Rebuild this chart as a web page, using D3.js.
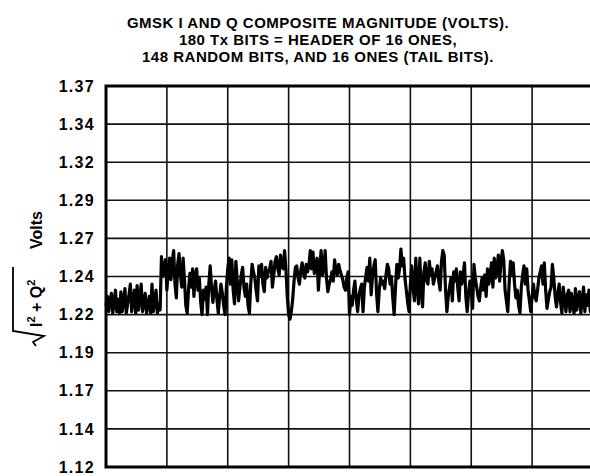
<!DOCTYPE html>
<html>
<head>
<meta charset="utf-8">
<script src="https://cdn.jsdelivr.net/npm/d3@7"></script>
<style>
body { margin: 0; background: #fff; }
svg { display: block; }
text { font-family: "Liberation Sans", Arial, sans-serif; font-weight: bold; fill: #000; }
</style>
</head>
<body>
<script>
"use strict";
const titleLines = ["GMSK I AND Q COMPOSITE MAGNITUDE (VOLTS).", "180 Tx BITS = HEADER OF 16 ONES,", "148 RANDOM BITS, AND 16 ONES (TAIL BITS)."];
const yTicks = [1.12, 1.145, 1.17, 1.195, 1.22, 1.245, 1.27, 1.295, 1.32, 1.345, 1.37];
const yTickLabels = ["1.12", "1.14", "1.17", "1.19", "1.22", "1.24", "1.27", "1.29", "1.32", "1.34", "1.37"];
const xTicks = [0, 22.5, 45, 67.5, 90, 112.5, 135, 157.5, 180];
const bitStep = 0.5; // two samples per bit, 180 bits
const volts = [
1.226,1.232,1.222,1.229,1.234,1.221,1.228,1.236,1.222,1.230,
1.221,1.235,1.222,1.229,1.237,1.221,1.227,1.233,1.240,1.222,
1.230,1.236,1.221,1.239,1.223,1.230,1.240,1.222,1.228,1.234,
1.221,1.226,1.232,1.221,1.240,1.222,1.229,1.236,1.221,1.227,
1.223,1.258,1.245,1.252,1.256,1.236,1.248,1.257,1.243,1.255,
1.262,1.240,1.231,1.253,1.260,1.246,1.238,1.257,1.243,1.226,
1.221,1.236,1.247,1.238,1.250,1.232,1.246,1.250,1.236,1.244,
1.228,1.220,1.236,1.230,1.238,1.220,1.240,1.252,1.238,1.228,
1.236,1.242,1.230,1.221,1.232,1.240,1.234,1.226,1.220,1.238,
1.250,1.257,1.240,1.256,1.236,1.227,1.255,1.242,1.229,1.238,
1.246,1.251,1.238,1.232,1.240,1.226,1.221,1.240,1.253,1.248,
1.244,1.236,1.229,1.252,1.245,1.253,1.240,1.235,1.251,1.244,
1.248,1.250,1.255,1.238,1.246,1.255,1.258,1.250,1.246,1.259,
1.252,1.250,1.262,1.250,1.232,1.220,1.217,1.222,1.230,1.242,
1.251,1.252,1.244,1.240,1.249,1.254,1.247,1.244,1.253,1.248,
1.252,1.262,1.250,1.261,1.247,1.252,1.257,1.236,1.250,1.262,
1.246,1.250,1.262,1.244,1.235,1.240,1.243,1.248,1.242,1.256,
1.248,1.246,1.253,1.249,1.246,1.243,1.238,1.236,1.244,1.248,
1.220,1.232,1.226,1.236,1.242,1.230,1.222,1.232,1.237,1.240,
1.222,1.238,1.245,1.251,1.242,1.257,1.233,1.245,1.252,1.256,
1.234,1.222,1.236,1.244,1.240,1.242,1.237,1.246,1.253,1.250,
1.240,1.245,1.231,1.220,1.238,1.253,1.244,1.250,1.263,1.252,
1.257,1.244,1.236,1.228,1.222,1.240,1.252,1.238,1.229,1.257,
1.240,1.227,1.257,1.236,1.225,1.248,1.254,1.242,1.240,1.255,
1.246,1.250,1.240,1.244,1.248,1.252,1.242,1.236,1.255,1.262,
1.259,1.236,1.222,1.232,1.238,1.244,1.229,1.248,1.242,1.250,
1.238,1.229,1.248,1.240,1.246,1.254,1.232,1.222,1.234,1.242,
1.236,1.224,1.253,1.244,1.238,1.232,1.229,1.238,1.244,1.236,
1.246,1.232,1.250,1.240,1.246,1.254,1.238,1.257,1.244,1.250,
1.259,1.242,1.255,1.262,1.256,1.236,1.229,1.222,1.240,1.255,
1.246,1.254,1.240,1.231,1.236,1.226,1.221,1.238,1.246,1.252,
1.240,1.250,1.236,1.229,1.222,1.232,1.240,1.232,1.229,1.236,
1.244,1.248,1.252,1.240,1.254,1.236,1.224,1.230,1.235,1.238,
1.253,1.244,1.232,1.225,1.234,1.240,1.228,1.221,1.238,1.230,
1.222,1.233,1.236,1.222,1.234,1.226,1.221,1.237,1.223,1.231,
1.235,1.221,1.229,1.238,1.222,1.233,1.226,1.236,1.222,1.230,
1.226
];

const W = 590, H = 476;
const m = { left: 106, right: 593, top: 86, bottom: 467 };
const svg = d3.select("body").append("svg").attr("width", W).attr("height", H);

const x = d3.scaleLinear().domain([0, 180]).range([m.left, m.right]);
const y = d3.scaleLinear().domain([1.12, 1.37]).range([m.bottom, m.top]);

// title
svg.append("g").selectAll("text").data(titleLines).enter().append("text")
	.attr("x", 318).attr("y", (d, i) => 28 + i * 17)
	.attr("text-anchor", "middle").style("font-size", "15px").style("letter-spacing", "0.5px").text(d => d);

// grid
svg.append("g").selectAll("line").data(yTicks).enter().append("line")
	.attr("x1", m.left).attr("x2", m.right).attr("y1", d => y(d)).attr("y2", d => y(d))
	.attr("stroke", "#111").attr("stroke-width", 1.6);
svg.append("g").selectAll("line").data(xTicks).enter().append("line")
	.attr("y1", m.top).attr("y2", m.bottom).attr("x1", d => x(d)).attr("x2", d => x(d))
	.attr("stroke", "#111").attr("stroke-width", 1.6);

// frame
svg.append("path").attr("d", `M${m.right},${m.top}H${m.left}V${m.bottom}H${m.right}`)
	.attr("fill", "none").attr("stroke", "#000").attr("stroke-width", 3);

// y axis labels
const yAxis = d3.axisLeft(y).tickValues(yTicks).tickFormat((d, i) => yTickLabels[i]).tickSize(0).tickPadding(11);
const ya = svg.append("g").attr("transform", `translate(${m.left},0)`).call(yAxis);
ya.select(".domain").remove();
ya.selectAll("text").style("font-size", "16px").style("letter-spacing", "1.3px")
	.style("font-family", "'Liberation Sans', Arial, sans-serif").attr("fill", "#000");

// trace
const line = d3.line().x((d, i) => x(i * bitStep)).y(d => y(d));
svg.append("path").datum(volts).attr("d", line)
	.attr("fill", "none").attr("stroke", "#000").attr("stroke-width", 3.2).attr("stroke-linejoin", "round");

// y axis title: sqrt(I^2 + Q^2)  Volts
const yl = svg.append("g").attr("transform", "translate(42,327) rotate(-90)");
const t = yl.append("text").attr("x", 0).attr("y", 0).style("font-size", "16px");
t.append("tspan").text("I");
t.append("tspan").attr("dy", -7).style("font-size", "11px").text("2");
t.append("tspan").attr("dy", 7).text(" + Q");
t.append("tspan").attr("dy", -7).style("font-size", "11px").text("2");
t.append("tspan").attr("dy", 7).attr("x", 78).text("Volts");
yl.append("path").attr("d", "M-19,-6 L-15,-9 L-9,2 L-4,-29 H60")
	.attr("fill", "none").attr("stroke", "#000").attr("stroke-width", 1.8).attr("stroke-linejoin", "miter");
</script>
</body>
</html>
